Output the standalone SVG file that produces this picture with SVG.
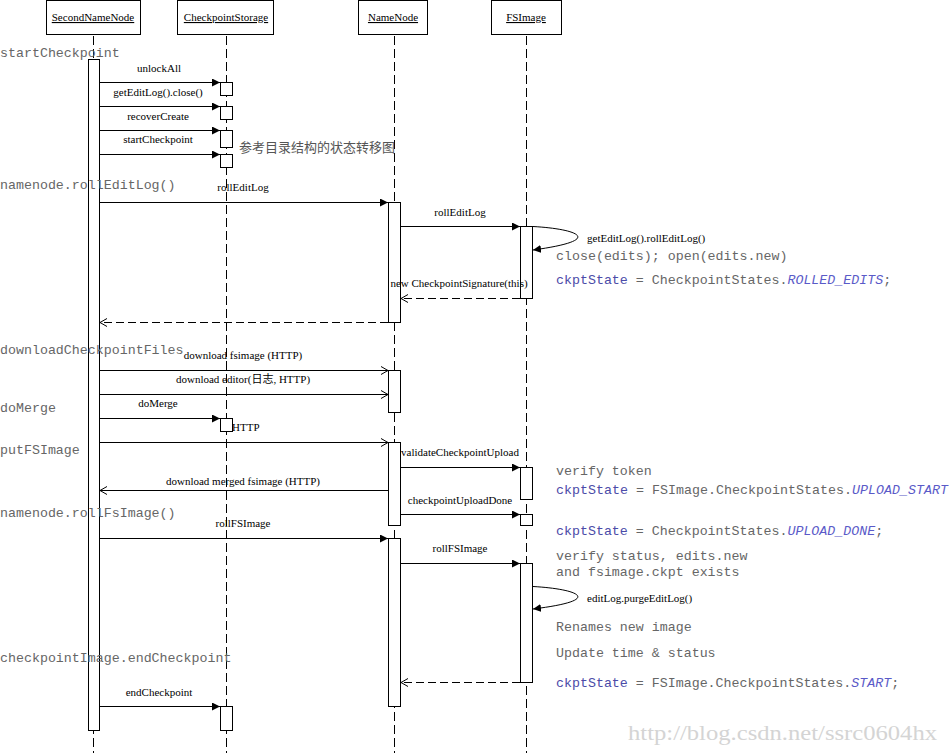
<svg xmlns="http://www.w3.org/2000/svg" width="949" height="753" viewBox="0 0 949 753">
<defs>
<style>
.hdr{fill:#fff;stroke:#000;stroke-width:1}
.ht{font-family:"Liberation Serif",serif;font-size:11px;text-anchor:middle;text-decoration:underline;fill:#000}
.life{stroke:#000;stroke-width:1;stroke-dasharray:9,4;fill:none}
.act{fill:#fff;stroke:#000;stroke-width:1}
.msg{stroke:#000;stroke-width:1;fill:none}
.ret{stroke:#000;stroke-width:1;fill:none;stroke-dasharray:8,4}
.ml{font-family:"Liberation Serif",serif;font-size:11px;fill:#000;text-anchor:middle}
.mls{font-family:"Liberation Serif",serif;font-size:11px;fill:#000}
.code{font-family:"Liberation Mono",monospace;font-size:13.3px;fill:#666}
.kw{fill:#4b4ba8}
.it{fill:#5a5ac8;font-style:italic}
.cn{font-family:"Liberation Serif","Noto Sans CJK SC",serif;font-size:13px;fill:#555}
.wm{font-family:"Liberation Serif",serif;font-size:20px;fill:#d4d4d4}
</style>
<marker id="fa" markerWidth="9" markerHeight="8" refX="8" refY="4" orient="auto" markerUnits="userSpaceOnUse"><path d="M0,0 L8,4 L0,8 z" fill="#000"/></marker>
<marker id="oa" markerWidth="9" markerHeight="10" refX="8" refY="5" orient="auto" markerUnits="userSpaceOnUse"><path d="M1,1 L8,5 L1,9" fill="none" stroke="#000" stroke-width="1"/></marker>
</defs>
<rect width="949" height="753" fill="#fff"/>

<g id="SecondNameNode">
<rect class="hdr" x="46.5" y="0.5" width="94" height="34"/>
<text class="ht" x="93" y="21">SecondNameNode</text>
<line class="life" x1="93.5" y1="36" x2="93.5" y2="753"/>
<rect class="act" x="88.5" y="59.5" width="11" height="671"/>
</g>

<g id="CheckpointStorage">
<rect class="hdr" x="177.5" y="0.5" width="96" height="34"/>
<text class="ht" x="226" y="21">CheckpointStorage</text>
<line class="life" x1="226.5" y1="36" x2="226.5" y2="753"/>
<rect class="act" x="220.5" y="82.5" width="12" height="13"/>
<rect class="act" x="220.5" y="106.5" width="12" height="13"/>
<rect class="act" x="220.5" y="130.5" width="12" height="17"/>
<rect class="act" x="220.5" y="154.5" width="12" height="13"/>
<rect class="act" x="220.5" y="418.5" width="12" height="13"/>
<rect class="act" x="220.5" y="706.5" width="12" height="24"/>
</g>

<g id="NameNode">
<rect class="hdr" x="358.5" y="0.5" width="69" height="34"/>
<text class="ht" x="393" y="21">NameNode</text>
<line class="life" x1="394.5" y1="36" x2="394.5" y2="753"/>
<rect class="act" x="388.5" y="202.5" width="12" height="120"/>
<rect class="act" x="388.5" y="370.5" width="12" height="42"/>
<rect class="act" x="388.5" y="442.5" width="12" height="83"/>
<rect class="act" x="388.5" y="538.5" width="12" height="168"/>
</g>

<g id="FSImage">
<rect class="hdr" x="491.5" y="0.5" width="70" height="34"/>
<text class="ht" x="526" y="21">FSImage</text>
<line class="life" x1="526.5" y1="36" x2="526.5" y2="753"/>
<rect class="act" x="520.5" y="226.5" width="12" height="72"/>
<rect class="act" x="520.5" y="467.5" width="12" height="32"/>
<rect class="act" x="520.5" y="514.5" width="12" height="11"/>
<rect class="act" x="520.5" y="563.5" width="12" height="119"/>
</g>

<g id="connectors">
<line class="msg" x1="100" y1="82.5" x2="220" y2="82.5" marker-end="url(#fa)"/>
<line class="msg" x1="100" y1="106.5" x2="220" y2="106.5" marker-end="url(#fa)"/>
<line class="msg" x1="100" y1="130.5" x2="220" y2="130.5" marker-end="url(#fa)"/>
<line class="msg" x1="100" y1="154.5" x2="220" y2="154.5" marker-end="url(#fa)"/>
<line class="msg" x1="100" y1="202.5" x2="388" y2="202.5" marker-end="url(#fa)"/>
<line class="msg" x1="401" y1="226.5" x2="520" y2="226.5" marker-end="url(#fa)"/>
<path class="msg" d="M533,226.5 C578,229 606,240 533,250" marker-end="url(#fa)"/>
<line class="ret" x1="520" y1="298.5" x2="401" y2="298.5" marker-end="url(#oa)"/>
<line class="ret" x1="388" y1="322.5" x2="100" y2="322.5" marker-end="url(#oa)"/>
<line class="msg" x1="100" y1="370.5" x2="388" y2="370.5" marker-end="url(#oa)"/>
<line class="msg" x1="100" y1="394.5" x2="388" y2="394.5" marker-end="url(#oa)"/>
<line class="msg" x1="100" y1="418.5" x2="220" y2="418.5" marker-end="url(#fa)"/>
<line class="msg" x1="100" y1="442.5" x2="388" y2="442.5" marker-end="url(#oa)"/>
<line class="msg" x1="401" y1="467.5" x2="520" y2="467.5" marker-end="url(#fa)"/>
<line class="msg" x1="388" y1="490.5" x2="100" y2="490.5" marker-end="url(#oa)"/>
<line class="msg" x1="401" y1="514.5" x2="520" y2="514.5" marker-end="url(#fa)"/>
<line class="msg" x1="100" y1="538.5" x2="388" y2="538.5" marker-end="url(#fa)"/>
<line class="msg" x1="401" y1="563.5" x2="520" y2="563.5" marker-end="url(#fa)"/>
<path class="msg" d="M533,586.5 C578,589 606,600 533,609" marker-end="url(#fa)"/>
<line class="ret" x1="520" y1="682.5" x2="401" y2="682.5" marker-end="url(#oa)"/>
<line class="msg" x1="100" y1="706.5" x2="220" y2="706.5" marker-end="url(#fa)"/>
</g>

<g id="message-labels">
<text class="ml" x="159" y="72">unlockAll</text>
<text class="ml" x="158" y="96">getEditLog().close()</text>
<text class="ml" x="158" y="120">recoverCreate</text>
<text class="ml" x="158" y="143">startCheckpoint</text>
<text class="ml" x="243" y="191">rollEditLog</text>
<text class="ml" x="460" y="216">rollEditLog</text>
<text class="mls" x="587" y="242">getEditLog().rollEditLog()</text>
<text class="ml" x="459" y="287">new CheckpointSignature(this)</text>
<text class="ml" x="243" y="359">download fsimage (HTTP)</text>
<text class="ml" x="243" y="383">download editor(<tspan font-family="Noto Sans CJK SC">日志</tspan>, HTTP)</text>
<text class="ml" x="158" y="407">doMerge</text>
<text class="mls" x="232" y="431">HTTP</text>
<text class="ml" x="460" y="456">validateCheckpointUpload</text>
<text class="ml" x="243" y="485">download merged fsimage (HTTP)</text>
<text class="ml" x="460" y="504">checkpointUploadDone</text>
<text class="ml" x="243" y="527">rollFSImage</text>
<text class="ml" x="460" y="552">rollFSImage</text>
<text class="mls" x="587" y="602">editLog.purgeEditLog()</text>
<text class="ml" x="159" y="696">endCheckpoint</text>
</g>

<g id="notes">
<text class="code" x="0" y="57">startCheckpoint</text>
<text class="code" x="0" y="189">namenode.rollEditLog()</text>
<text class="code" x="0" y="354">downloadCheckpointFiles</text>
<text class="code" x="0" y="412">doMerge</text>
<text class="code" x="0" y="454">putFSImage</text>
<text class="code" x="0" y="517">namenode.rollFsImage()</text>
<text class="code" x="0" y="662">checkpointImage.endCheckpoint</text>
<text class="cn" x="239" y="152">参考目录结构的状态转移图</text>
<text class="code" x="556" y="260">close(edits); open(edits.new)</text>
<text class="code" x="556" y="284"><tspan class="kw">ckptState</tspan> = CheckpointStates.<tspan class="it">ROLLED_EDITS</tspan>;</text>
<text class="code" x="556" y="475">verify token</text>
<text class="code" x="556" y="494" textLength="392" lengthAdjust="spacing"><tspan class="kw">ckptState</tspan> = FSImage.CheckpointStates.<tspan class="it">UPLOAD_START</tspan></text>
<text class="code" x="556" y="535"><tspan class="kw">ckptState</tspan> = CheckpointStates.<tspan class="it">UPLOAD_DONE</tspan>;</text>
<text class="code" x="556" y="560">verify status, edits.new</text>
<text class="code" x="556" y="576">and fsimage.ckpt exists</text>
<text class="code" x="556" y="631">Renames new image</text>
<text class="code" x="556" y="657">Update time &amp; status</text>
<text class="code" x="556" y="687"><tspan class="kw">ckptState</tspan> = FSImage.CheckpointStates.<tspan class="it">START</tspan>;</text>
<text class="wm" x="628" y="740" textLength="309" lengthAdjust="spacingAndGlyphs">http://blog.csdn.net/ssrc0604hx</text>
</g>
</svg>
